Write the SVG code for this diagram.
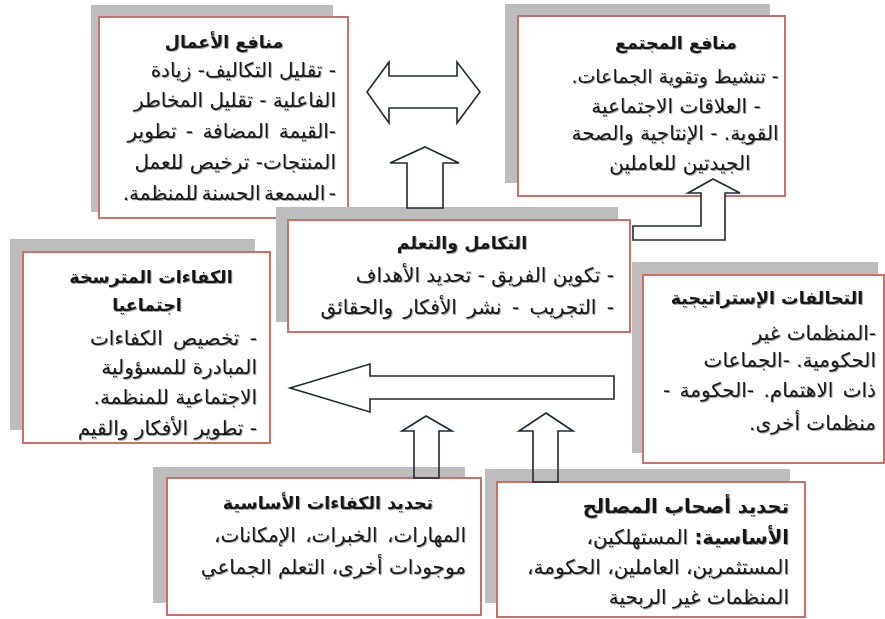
<svg xmlns="http://www.w3.org/2000/svg" width="885" height="619" viewBox="0 0 885 619">
<style>
.shadow{fill:#bdbdbd;}
.box{fill:#ffffff;stroke:#cf6e66;stroke-width:2;}
text{font-family:"DejaVu Sans",sans-serif;font-size:20px;fill:#151515;direction:rtl;filter:url(#ts);}
.t{font-weight:bold;font-size:17.5px;text-anchor:middle;}
.r{text-anchor:start;}
.m{text-anchor:middle;}
.b{font-weight:bold;font-size:19.5px;}
.arrow{fill:#ffffff;stroke:#1e2b33;stroke-width:1.6;stroke-linejoin:miter;}
.open{fill:none;}
</style>
<defs>
<filter id="ts" x="-5%" y="-20%" width="110%" height="140%">
<feDropShadow dx="1" dy="1" stdDeviation="0.6" flood-color="#555555" flood-opacity="0.55"/>
</filter>
</defs>
<rect width="885" height="619" fill="#ffffff"/>
<g id="business-benefits">
<rect class="shadow" x="91" y="5" width="242" height="207"/>
<rect class="box" x="99" y="17" width="249" height="201"/>
<text class="t" x="224" y="48">منافع الأعمال</text>
<text class="r" x="336" y="77">- تقليل التكاليف- زيادة</text>
<text class="r" x="336" y="107">الفاعلية - تقليل المخاطر</text>
<text class="r" x="336" y="138" style="word-spacing:3px">-القيمة المضافة - تطوير</text>
<text class="r" x="336" y="169">المنتجات- ترخيص للعمل</text>
<text class="r" x="336" y="200" style="word-spacing:-3px">- السمعة الحسنة للمنظمة.</text>
</g>
<g id="community-benefits">
<rect class="shadow" x="505" y="4" width="265" height="179"/>
<rect class="box" x="518" y="16" width="267" height="180"/>
<text class="t" x="676" y="49">منافع المجتمع</text>
<text class="m" x="675" y="83" style="font-size:19px">- تنشيط وتقوية الجماعات.</text>
<text class="m" x="676" y="113">- العلاقات الاجتماعية</text>
<text class="m" x="675" y="140">القوية. - الإنتاجية والصحة</text>
<text class="m" x="680" y="170">الجيدتين للعاملين</text>
</g>
<g id="integration-learning">
<rect class="shadow" x="276" y="207" width="342" height="115"/>
<rect class="box" x="288" y="220" width="342" height="112"/>
<text class="t" x="462" y="249">التكامل والتعلم</text>
<text class="r" x="614" y="282">- تكوين الفريق - تحديد الأهداف</text>
<text class="r" x="614" y="314" style="word-spacing:4px">- التجريب - نشر الأفكار والحقائق</text>
</g>
<g id="embedded-competencies">
<rect class="shadow" x="10" y="239" width="245" height="191"/>
<rect class="box" x="23" y="252" width="247" height="191"/>
<text class="t" x="151" y="283">الكفاءات المترسخة</text>
<text class="t" x="147" y="311">اجتماعيا</text>
<text class="r" x="257" y="345" style="word-spacing:4px">- تخصيص الكفاءات</text>
<text class="r" x="257" y="374">المبادرة للمسؤولية</text>
<text class="r" x="257" y="404">الاجتماعية للمنظمة.</text>
<text class="r" x="257" y="435">- تطوير الأفكار والقيم</text>
</g>
<g id="strategic-alliances">
<rect class="shadow" x="632" y="262" width="246" height="191"/>
<rect class="box" x="643" y="275" width="241" height="188"/>
<text class="t" x="767" y="304">التحالفات الإستراتيجية</text>
<text class="r" x="876" y="340">-المنظمات غير</text>
<text class="r" x="876" y="367">الحكومية. -الجماعات</text>
<text class="r" x="876" y="397" style="word-spacing:3px">ذات الاهتمام. -الحكومة -</text>
<text class="r" x="876" y="430">منظمات أخرى.</text>
</g>
<g id="core-competencies">
<rect class="shadow" x="153" y="467" width="312" height="136"/>
<rect class="box" x="167" y="478" width="314" height="137"/>
<text class="t" x="328" y="509">تحديد الكفاءات الأساسية</text>
<text class="r" x="466" y="542" style="word-spacing:3px">المهارات، الخبرات، الإمكانات،</text>
<text class="r" x="466" y="574">موجودات أخرى، التعلم الجماعي</text>
</g>
<g id="stakeholders">
<rect class="shadow" x="485" y="469" width="305" height="134"/>
<rect class="box" x="497" y="482" width="308" height="135"/>
<text class="r b" x="789" y="513">تحديد أصحاب المصالح</text>
<text class="r" x="789" y="544"><tspan class="b">الأساسية:</tspan> المستهلكين،</text>
<text class="r" x="789" y="574">المستثمرين، العاملين، الحكومة،</text>
<text class="r" x="789" y="604">المنظمات غير الربحية</text>
</g>
<g id="connectors">
<polygon class="arrow" points="367,92 389,62 389,76 457,76 457,62 480,92 457,123 457,108 389,108 389,123"/>
<polygon class="arrow" points="425,147 459,163 443,163 443,208 407,208 407,163 390,163"/>
<polygon class="arrow" points="713,179 740,193 725,193 725,240 633,240 633,226 701,226 701,193 688,193"/>
<polygon class="arrow" points="290,388 370,364 370,376 614,376 614,399 370,399 370,412"/>
<polygon class="arrow open" points="426,416 452,431 439,431 439,478 414,478 414,431 402,431"/>
<polygon class="arrow open" points="546,413 573,431 558,431 558,482 533,482 533,431 519,431"/>
</g>
</svg>
